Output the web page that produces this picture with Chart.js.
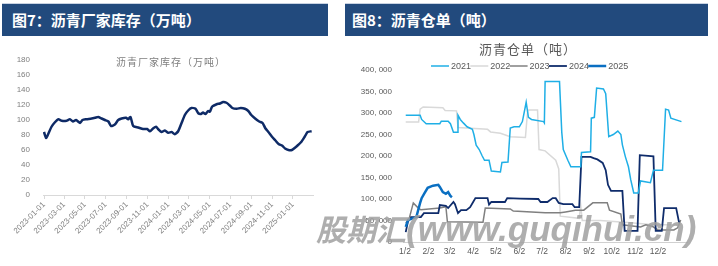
<!DOCTYPE html>
<html>
<head>
<meta charset="utf-8">
<script src="https://cdn.jsdelivr.net/npm/chart.js@4.4.1/dist/chart.umd.min.js"></script>
<style>
  body { margin: 0; width: 718px; height: 266px; position: relative; overflow: hidden; background: #fff; }
  .bar { position: absolute; top: 3px; height: 33px; background: #224a7d; border-top: 1px solid #c8d2e2;
         box-sizing: border-box; color: #fff; font: bold 15px "Noto Sans CJK SC", sans-serif; line-height: 31px; }
  #bar1 { left: 2px; width: 326px; padding-left: 10px; }
  #bar2 { left: 345px; width: 363px; padding-left: 7px; }
  canvas { position: absolute; }
  #c1 { left: 0; top: 36px; }
  #c2 { left: 360px; top: 36px; }
  #wm { position: absolute; left: 316px; top: 204px; color: rgba(160,160,160,0.85); font-weight: bold;
        font-style: italic; white-space: nowrap; line-height: 48px; }
  #wm .cn { font-family: "Noto Sans CJK SC", sans-serif; font-size: 30px; }
  #wm .en { font-family: "Liberation Sans", sans-serif; font-size: 35px; }
</style>
</head>
<body>
<div class="bar" id="bar1">图7：沥青厂家库存（万吨）</div>
<div class="bar" id="bar2">图8：沥青仓单（吨）</div>
<canvas id="c1" width="330" height="230"></canvas>
<canvas id="c2" width="358" height="230"></canvas>
<div id="wm"><span class="cn">股期汇</span><span class="en">(www.guqihui.cn)</span></div>
<script>
// ---- 图7 沥青厂家库存（万吨）
const invDates = ['2023-01-01','2023-01-07','2023-01-13','2023-01-23','2023-02-02','2023-02-12','2023-02-22',
  '2023-03-08','2023-03-18','2023-03-27','2023-04-05','2023-04-17','2023-04-24','2023-05-06','2023-05-21',
  '2023-05-31','2023-06-09','2023-06-19','2023-06-29','2023-07-09','2023-07-17','2023-07-28','2023-08-07',
  '2023-08-17','2023-08-30','2023-09-05','2023-09-12','2023-09-20','2023-10-05','2023-10-19','2023-10-31',
  '2023-11-08','2023-11-18','2023-11-26','2023-12-02','2023-12-12','2023-12-22','2024-01-01','2024-01-11',
  '2024-01-20','2024-01-30','2024-02-09','2024-02-19','2024-02-29','2024-03-09','2024-03-21','2024-03-29',
  '2024-04-06','2024-04-12','2024-04-19','2024-04-27','2024-05-02','2024-05-09','2024-05-22','2024-06-01',
  '2024-06-10','2024-06-20','2024-06-28','2024-07-07','2024-07-20','2024-08-01','2024-08-13','2024-08-23',
  '2024-08-31','2024-09-12','2024-09-24','2024-10-04','2024-10-12','2024-10-21','2024-10-31','2024-11-10',
  '2024-11-20','2024-11-30','2024-12-09','2024-12-19','2024-12-29','2025-01-07','2025-01-17','2025-01-26',
  '2025-02-05','2025-02-13','2025-02-25'];
const invValues = [84,76,81,91,97,101,99,99,101,98,100,96,100,101,102,103,104,102,100,98,92,94,100,102,103,101,
  104,92,90,88,88,85,89,91,88,84,86,83,84,81,85,96,107,113,116,115,109,108,110,108,112,111,118,121,122,124,123,
  120,116,115,116,115,112,107,102,98,96,89,84,78,73,68,66,62,60,60,63,67,71,78,84,85];
const invTicks = ['2023-01-01','2023-03-01','2023-05-01','2023-07-01','2023-09-01','2023-11-01','2024-01-01',
  '2024-03-01','2024-05-01','2024-07-01','2024-09-01','2024-11-01','2025-01-01'];

// ---- 图8 沥青仓单（吨）: x = day of year, y = 千吨
const monthTickDays = [2,33,61,92,122,153,183,214,245,275,306,336];
const monthTickLabels = ['1/2','2/2','3/2','4/2','5/2','6/2','7/2','8/2','9/2','10/2','11/2','12/2'];
const years = ['2021','2022','2023','2024','2025'];
const d2021 = [3,22,24,30,48,50,59,62,66,71,72,75,79,84,91,93,96,100,104,107,113,116,128,130,138,141,146,153,157,
  162,165,169,185,186,187,206,209,211,217,221,234,235,247,248,252,255,264,267,271,277,283,287,289,293,297,300,304,
  310,313,326,330,342,346,350,353,367];
const v2021 = [295,295,285,275,275,281,281,275,255,255,295,285,277,268,262,250,225,215,200,190,190,165,163,185,186,
  265,268,268,280,325,290,285,280,277,373,373,255,215,190,175,175,208,210,288,290,358,356,345,245,250,258,250,226,
  198,175,145,114,114,142,138,167,167,309,307,288,280];
const d2022 = [3,20,22,26,52,55,70,72,111,115,128,141,161,164,177,179,187,201,205,207,232,234,236,260,300,330,366];
const v2022 = [279,279,309,314,312,306,305,266,262,256,253,245,243,307,307,215,212,190,170,60,55,85,50,50,45,40,40];
const d2023 = [3,7,13,19,23,48,56,58,105,108,141,145,187,207,214,227,238,250,269,272,287,289,313,320,329,336,357,362,366];
const v2023 = [44,51,91,80,75,79,82,47,46,79,77,72,68,68,70,74,74,91,91,74,65,40,35,40,36,28,28,33,51];
const d2024 = [3,6,10,23,27,46,48,56,59,66,68,72,76,83,88,92,95,111,113,116,134,137,154,178,181,190,197,201,205,
  211,223,226,232,235,247,251,256,263,267,270,274,289,292,309,312,330,333,341,344,360,364];
const v2024 = [23,48,58,58,67,67,86,84,79,93,88,67,74,74,81,93,102,102,87,93,93,102,101,100,93,93,102,102,91,88,
  88,81,81,198,198,195,192,184,167,133,119,119,26,26,202,199,26,26,79,79,44];
const d2025 = [3,6,12,17,22,24,28,32,39,46,48,52,56,59,62,64];
const v2025 = [35,51,55,58,91,102,114,126,131,133,128,116,112,116,107,104];

const dayOf = s => (Date.UTC(+s.slice(0,4), +s.slice(5,7) - 1, +s.slice(8,10)) - Date.UTC(2023,0,1)) / 86400000;
const pts = (days, vals) => days.map((d, i) => ({ x: d, y: vals[i] * 1000 }));

const leftTitle = {
  id: 'leftTitle',
  afterDraw(chart) {
    const ctx = chart.ctx;
    ctx.save();
    ctx.font = '10px "Noto Sans CJK SC"';
    ctx.letterSpacing = '1px';
    ctx.fillStyle = '#7f7f7f';
    ctx.textAlign = 'center';
    ctx.textBaseline = 'middle';
    ctx.fillText('沥青厂家库存（万吨）', 171, 26);
    ctx.restore();
  }
};

new Chart(document.getElementById('c1'), {
  type: 'line',
  data: {
    datasets: [{
      data: invDates.map((d, i) => ({ x: dayOf(d), y: invValues[i] })),
      borderColor: '#0e2a66',
      borderWidth: 2.5,
      pointRadius: 0,
      tension: 0.2
    }]
  },
  options: {
    responsive: false,
    animation: false,
    events: [],
    layout: { padding: { top: 24, right: 17, bottom: 0, left: 0 } },
    plugins: { legend: { display: false }, tooltip: { enabled: false } },
    scales: {
      x: {
        type: 'linear',
        min: -3,
        max: 790,
        afterBuildTicks: s => { s.ticks = invTicks.map(t => ({ value: dayOf(t) })); },
        afterFit: s => { s.height = 71; },
        ticks: {
          autoSkip: false, minRotation: 45, maxRotation: 45, padding: 1,
          color: '#7f7f7f', font: { family: 'Liberation Sans', size: 8 },
          callback: (v, i) => invTicks[i]
        },
        grid: { display: true, drawOnChartArea: false, drawTicks: true, tickLength: 4, color: '#d9d9d9' },
        border: { display: true, color: '#d9d9d9' }
      },
      y: {
        min: 0,
        max: 180,
        afterFit: s => { s.width = 43; },
        ticks: { stepSize: 20, padding: 5, color: '#7f7f7f', font: { family: 'Liberation Sans', size: 8 } },
        grid: { display: false },
        border: { display: false }
      }
    }
  },
  plugins: [leftTitle]
});

const rightHead = {
  id: 'rightHead',
  afterDraw(chart) {
    const ctx = chart.ctx;
    ctx.save();
    ctx.font = '13px "Noto Sans CJK SC"';
    ctx.letterSpacing = '1px';
    ctx.fillStyle = '#595959';
    ctx.textAlign = 'center';
    ctx.textBaseline = 'middle';
    ctx.fillText('沥青仓单（吨）', 168, 13);
    ctx.letterSpacing = '0px';
    ctx.font = '9px "Liberation Sans"';
    ctx.textAlign = 'left';
    chart.data.datasets.forEach((ds, i) => {
      const x0 = 71 + i * 39.3;
      ctx.strokeStyle = ds.borderColor;
      ctx.lineWidth = ds.borderWidth;
      ctx.beginPath();
      ctx.moveTo(x0, 30);
      ctx.lineTo(x0 + 18, 30);
      ctx.stroke();
      ctx.fillText(ds.label, x0 + 20, 30.5);
    });
    ctx.restore();
  }
};

const colors = ['#1fafe6', '#d9d9d9', '#808080', '#0f2c6b', '#0a6fc2'];
const widths = [1.5, 1.5, 1.5, 1.8, 2.5];
const orders = [1, 4, 3, 2, 0];
const series = [[d2021, v2021], [d2022, v2022], [d2023, v2023], [d2024, v2024], [d2025, v2025]];

new Chart(document.getElementById('c2'), {
  type: 'line',
  data: {
    datasets: years.map((y, i) => ({
      label: y,
      data: pts(series[i][0], series[i][1]),
      borderColor: colors[i],
      borderWidth: widths[i],
      order: orders[i],
      pointRadius: 0,
      tension: 0
    }))
  },
  options: {
    responsive: false,
    animation: false,
    events: [],
    layout: { padding: { top: 34, right: 31, bottom: 0, left: 0 } },
    plugins: { legend: { display: false }, tooltip: { enabled: false } },
    scales: {
      x: {
        type: 'linear',
        min: -0.6,
        max: 374.3,
        afterBuildTicks: s => { s.ticks = monthTickDays.map(v => ({ value: v })); },
        afterFit: s => { s.height = 24; },
        ticks: {
          autoSkip: false, maxRotation: 0, padding: 5,
          color: '#595959', font: { family: 'Liberation Sans', size: 8.5 },
          callback: (v, i) => monthTickLabels[i]
        },
        grid: { display: false, drawTicks: false },
        border: { display: true, color: '#d0d0d0' }
      },
      y: {
        min: 0,
        max: 400000,
        afterFit: s => { s.width = 43; },
        ticks: {
          stepSize: 50000, padding: 3, color: '#595959',
          font: { family: 'Liberation Sans', size: 8 },
          callback: v => v === 0 ? '0' : (v / 1000) + ', 000'
        },
        grid: { display: false },
        border: { display: false }
      }
    }
  },
  plugins: [rightHead]
});
</script>
</body>
</html>
